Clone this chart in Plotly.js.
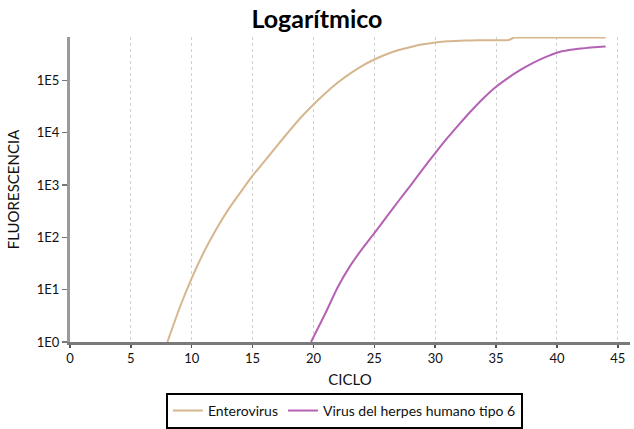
<!DOCTYPE html>
<html>
<head>
<meta charset="utf-8">
<script src="https://cdn.plot.ly/plotly-3.0.1.min.js"></script>
<style>html,body{margin:0;padding:0;background:#fff;}#chart{width:634px;height:429px;}</style>
</head>
<body>
<div id="chart"></div>
<script>
// Cycle numbers
const enteroCycles = [8,9,10,11,12,13,14,15,16,17,18,19,20,21,22,23,24,25,26,27,28,29,30,31,32,33,34,35,36,36.5,37,38,39,40,41,42,43,44];
// log10 fluorescence
const enteroLog = [0,0.65,1.22,1.72,2.15,2.53,2.86,3.18,3.46,3.75,4.03,4.3,4.54,4.76,4.96,5.13,5.28,5.4,5.5,5.58,5.64,5.69,5.725,5.75,5.76,5.765,5.77,5.77,5.77,5.82,5.82,5.82,5.82,5.82,5.82,5.82,5.82,5.82];
const hhvCycles = [19.8,21,22,23,24,25,26,27,28,29,30,31,32,33,34,35,36,37,38,39,40,41,42,43,44];
const hhvLog = [0,0.56,1.05,1.45,1.78,2.08,2.39,2.7,3.0,3.31,3.61,3.9,4.17,4.43,4.67,4.88,5.05,5.2,5.33,5.44,5.53,5.58,5.61,5.635,5.65];
const seriesNames = ["Enterovirus","Virus del herpes humano tipo 6"];
const yTickVals = [1,10,100,1000,10000,100000];
const yTickText = ["1E0","1E1","1E2","1E3","1E4","1E5"];
const xTickVals = [0,5,10,15,20,25,30,35,40,45];

const toVal = a => a.map(v => Math.pow(10, v));

const font = "Lato, 'Open Sans', sans-serif";
const data = [
  {x: enteroCycles, y: toVal(enteroLog), name: seriesNames[0], type: 'scatter', mode: 'lines',
   line: {color: '#d6b68e', width: 2, shape: 'spline', smoothing: 0.6}},
  {x: hhvCycles, y: toVal(hhvLog), name: seriesNames[1], type: 'scatter', mode: 'lines',
   line: {color: '#b462b4', width: 2, shape: 'spline', smoothing: 0.6}}
];
const layout = {
  width: 634, height: 429,
  margin: {l: 70, r: 4, t: 37, b: 87, autoexpand: false},
  paper_bgcolor: '#fff', plot_bgcolor: '#fff',
  font: {family: font, color: '#111', size: 13},
  title: {text: '<b>Logarítmico</b>', x: 0.5, xref: 'container', xanchor: 'center', y: 0.975, yref: 'container',
          font: {family: font, size: 25, color: '#000'}},
  xaxis: {
    range: [0, 46], tickvals: xTickVals, ticktext: xTickVals.map(String),
    showgrid: true, gridcolor: '#d0d0d0', griddash: 'dot', gridwidth: 1,
    showline: true, linecolor: '#7a7a7a', linewidth: 2.5,
    ticks: 'outside', ticklen: 3, tickcolor: '#555', tickwidth: 1.5,
    zeroline: false, tickfont: {size: 13, family: font}, automargin: false,
    title: {text: 'CICLO', font: {size: 15, family: font}, standoff: 10}
  },
  yaxis: {
    type: 'log', range: [0, 5.83], tickvals: yTickVals, ticktext: yTickText,
    showgrid: false, showline: true, linecolor: '#9a9a9a', linewidth: 3,
    ticks: 'outside', ticklen: 5, tickcolor: '#777', tickwidth: 1.5,
    zeroline: false, tickfont: {size: 13, family: font}, automargin: false,
    title: {text: 'FLUORESCENCIA', font: {size: 15, family: font}, standoff: 14}
  },
  showlegend: true,
  legend: {orientation: 'h', x: 0.49, xanchor: 'center', y: -0.167, yanchor: 'top',
           bordercolor: '#000', borderwidth: 2, font: {size: 14, family: font},
           itemwidth: 30, tracegroupgap: 0}
};
Plotly.newPlot('chart', data, layout, {displayModeBar: false, staticPlot: true});
</script>
</body>
</html>
